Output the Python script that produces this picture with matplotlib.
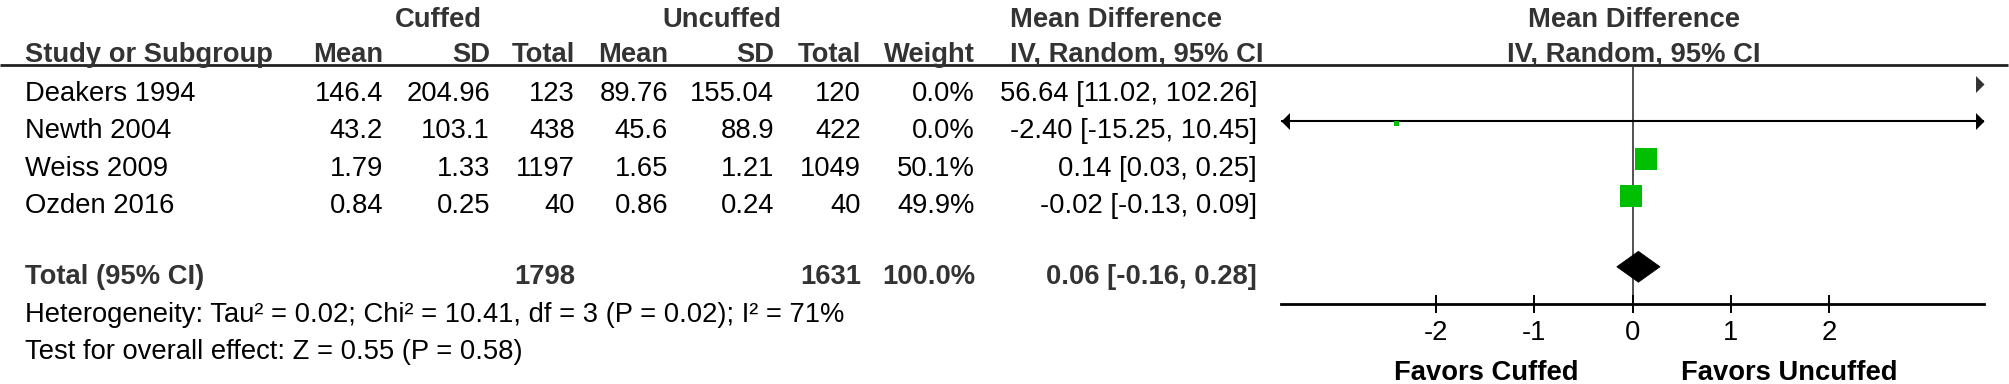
import numpy as np
import matplotlib.pyplot as plt
from matplotlib.patches import Polygon

plt.rcParams['font.family'] = ['Liberation Sans', 'DejaVu Sans']

# %%
# study level data
studies = ['Deakers 1994', 'Newth 2004', 'Weiss 2009', 'Ozden 2016']
cuff_mean = ['146.4', '43.2', '1.79', '0.84']
cuff_sd = ['204.96', '103.1', '1.33', '0.25']
cuff_n = [123, 438, 1197, 40]
unc_mean = ['89.76', '45.6', '1.65', '0.86']
unc_sd = ['155.04', '88.9', '1.21', '0.24']
unc_n = [120, 422, 1049, 40]
weight = [0.0, 0.0, 50.1, 49.9]
md = [56.64, -2.40, 0.14, -0.02]
ci_lo = [11.02, -15.25, 0.03, -0.13]
ci_hi = [102.26, 10.45, 0.25, 0.09]

# pooled
tot_cuff = 1798
tot_unc = 1631
tot_weight = 100.0
pool_md, pool_lo, pool_hi = 0.06, -0.16, 0.28

het_text = 'Heterogeneity: Tau² = 0.02; Chi² = 10.41, df = 3 (P = 0.02); I² = 71%'
eff_text = 'Test for overall effect: Z = 0.55 (P = 0.58)'
ticks = [-2, -1, 0, 1, 2]
xmin, xmax = -3.57, 3.57

# %%
W, H = 2009, 384
fig = plt.figure(figsize=(W / 100, H / 100), dpi=100)
tab = fig.add_axes([0, 0, 1, 1])
tab.set_xlim(0, W)
tab.set_ylim(H, 0)
tab.axis('off')

fs = 19.7
green = '#00bf00'
hdr = '#333333'

rows = np.arange(len(studies))
total_row = 4.9
row_px = 37.3
mark0 = 84   # pixel y of first row marks
base0 = 101  # baseline of first row text

def text_y(r):
    return base0 + row_px * r

# header
tab.text(438, 27, 'Cuffed', fontsize=fs, fontweight='bold', color=hdr, ha='center', va='baseline')
tab.text(722, 27, 'Uncuffed', fontsize=fs, fontweight='bold', color=hdr, ha='center', va='baseline')
tab.text(1116, 27, 'Mean Difference', fontsize=fs, fontweight='bold', color=hdr, ha='center', va='baseline')
tab.text(1634, 27, 'Mean Difference', fontsize=fs, fontweight='bold', color=hdr, ha='center', va='baseline')

col_right = [383, 490, 575, 668, 774, 861, 975]
col_names = ['Mean', 'SD', 'Total', 'Mean', 'SD', 'Total', 'Weight']
tab.text(25, 62, 'Study or Subgroup', fontsize=fs, fontweight='bold', color=hdr, va='baseline')
for x, name in zip(col_right, col_names):
    tab.text(x, 62, name, fontsize=fs, fontweight='bold', color=hdr, ha='right', va='baseline')
tab.text(1137, 62, 'IV, Random, 95% CI', fontsize=fs, fontweight='bold', color=hdr, ha='center', va='baseline')
tab.text(1634, 62, 'IV, Random, 95% CI', fontsize=fs, fontweight='bold', color=hdr, ha='center', va='baseline')
tab.plot([0, W - 1], [65, 65], color='#222222', lw=2.0, solid_capstyle='butt')

# study rows
for i in rows:
    y = text_y(i)
    vals = [cuff_mean[i], cuff_sd[i], str(cuff_n[i]), unc_mean[i], unc_sd[i],
            str(unc_n[i]), '%.1f%%' % weight[i]]
    tab.text(25, y, studies[i], fontsize=fs, va='baseline')
    for x, v in zip(col_right, vals):
        tab.text(x, y, v, fontsize=fs, ha='right', va='baseline')
    tab.text(1257, y, '%.2f [%.2f, %.2f]' % (md[i], ci_lo[i], ci_hi[i]),
             fontsize=fs, ha='right', va='baseline')

# total row
y = text_y(total_row)
tab.text(25, y, 'Total (95% CI)', fontsize=fs, fontweight='bold', color=hdr, va='baseline')
tab.text(col_right[2], y, str(tot_cuff), fontsize=fs, fontweight='bold', color=hdr, ha='right', va='baseline')
tab.text(col_right[5], y, str(tot_unc), fontsize=fs, fontweight='bold', color=hdr, ha='right', va='baseline')
tab.text(col_right[6], y, '%.1f%%' % tot_weight, fontsize=fs, fontweight='bold', color=hdr, ha='right', va='baseline')
tab.text(1257, y, '%.2f [%.2f, %.2f]' % (pool_md, pool_lo, pool_hi),
         fontsize=fs, fontweight='bold', color=hdr, ha='right', va='baseline')
tab.text(25, 322, het_text, fontsize=fs, va='baseline')
tab.text(25, 359, eff_text, fontsize=fs, va='baseline')

# %%
# forest panel
ax_l, ax_r, ax_t, ax_b = 1281, 1984, 65, 304
ax = fig.add_axes([ax_l / W, 1 - ax_b / H, (ax_r - ax_l) / W, (ax_b - ax_t) / H])
ax.set_xlim(xmin, xmax)
ax.set_ylim((ax_b - mark0) / row_px, (ax_t - mark0) / row_px)
ax.patch.set_alpha(0)
for s in ['top', 'left', 'right']:
    ax.spines[s].set_visible(False)
ax.spines['bottom'].set_linewidth(2.0)
ax.spines['bottom'].set_color('black')
ax.set_yticks([])
ax.set_xticks(ticks)
ax.set_xticklabels([str(t) for t in ticks])
ax.tick_params(axis='x', direction='inout', length=13, width=1.4, labelsize=fs, pad=5)
ax.axvline(0, color='#333333', lw=1.2, zorder=1)

ms_full = 22 * 72 / 100  # marker side (pt) for the largest weight
head = [(-1, -1), (0, 0), (-1, 1)]
head_l = [(1, -1), (0, 0), (1, 1)]
for i in rows:
    lo, hi = ci_lo[i], ci_hi[i]
    if lo > xmax:
        ax.plot([xmax], [i], marker=head, ms=12.2, color='#333333', mew=0, clip_on=False)
        continue
    a, b = max(lo, xmin), min(hi, xmax)
    ax.plot([a, b], [i, i], color='black', lw=1.5, solid_capstyle='butt', zorder=2)
    if lo < xmin:
        ax.plot([xmin], [i], marker=head_l, ms=12.2, color='black', mew=0, clip_on=False)
    if hi > xmax:
        ax.plot([xmax], [i], marker=head, ms=12.2, color='black', mew=0, clip_on=False)
    side = max(ms_full * np.sqrt(weight[i] / max(weight)), 3.6)
    ax.plot([md[i]], [i + (0.04 if weight[i] == 0 else 0)], marker='s', ms=side,
            color=green, mew=0, zorder=3)

hh = 15.5 / row_px
dia = Polygon([(pool_lo, total_row), (pool_md, total_row - hh),
               (pool_hi, total_row), (pool_md, total_row + hh)],
              closed=True, facecolor='black', edgecolor='black', lw=0.5, zorder=3)
ax.add_patch(dia)

tr = ax.get_xaxis_transform()
ax.text(-0.55, -0.32, 'Favors Cuffed', transform=tr, fontsize=fs, fontweight='bold',
        ha='right', va='baseline')
ax.text(0.49, -0.32, 'Favors Uncuffed', transform=tr, fontsize=fs, fontweight='bold',
        ha='left', va='baseline')

fig.savefig('out.png', dpi=100)
